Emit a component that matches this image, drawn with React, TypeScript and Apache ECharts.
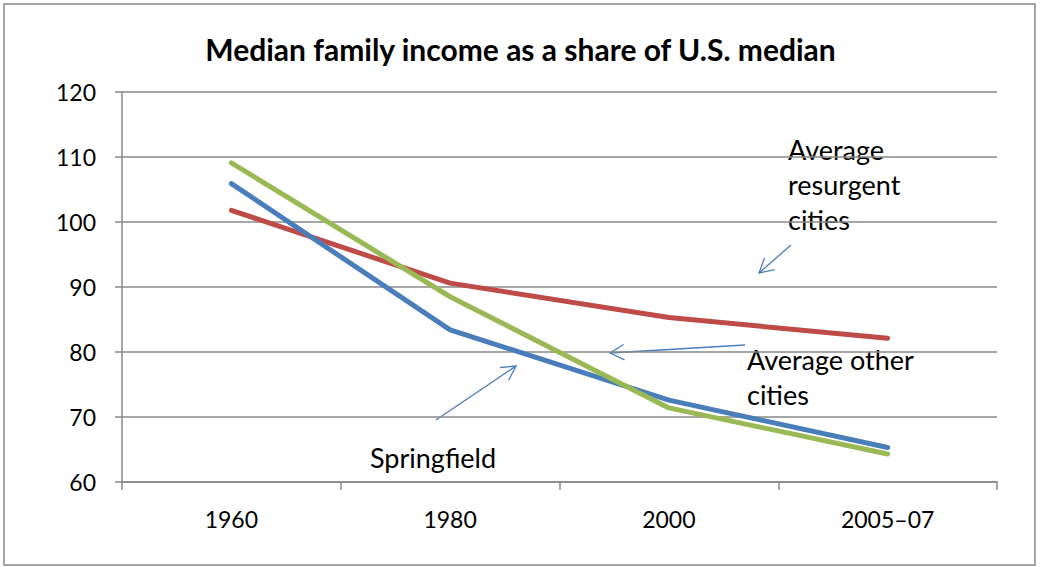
import React, { useEffect, useRef } from "react";
import * as echarts from "echarts";

const categories = ["1960", "1980", "2000", "2005–07"];
const springfield = [105.9, 83.4, 72.6, 65.3];
const otherCities = [109.1, 88.5, 71.4, 64.3];
const resurgentCities = [101.8, 90.6, 85.3, 82.1];
const yTicks = { min: 60, max: 120, interval: 10 };

const FONT = "Lato, 'Open Sans', sans-serif";
const ARROW = "#4a7ebb";

function arrow(x1: number, y1: number, x2: number, y2: number) {
  const ang = Math.atan2(y2 - y1, x2 - x1);
  const len = 16;
  const spread = 0.5;
  const a1 = ang + Math.PI - spread;
  const a2 = ang + Math.PI + spread;
  return [
    { type: "line", shape: { x1, y1, x2, y2 }, style: { stroke: ARROW, lineWidth: 1.3 } },
    {
      type: "polyline",
      shape: {
        points: [
          [x2 + len * Math.cos(a1), y2 + len * Math.sin(a1)],
          [x2, y2],
          [x2 + len * Math.cos(a2), y2 + len * Math.sin(a2)],
        ],
      },
      style: { stroke: ARROW, lineWidth: 1.3, fill: "none" },
    },
  ];
}

export default function App() {
  const ref = useRef<HTMLDivElement>(null);
  useEffect(() => {
    document.body.style.margin = "0";
    const chart = echarts.init(ref.current!, null, { renderer: "svg" });
    const text = (t: string, x: number, y: number) => ({
      type: "text",
      x,
      y,
      style: { text: t, font: `27px ${FONT}`, fill: "#000", lineHeight: 35 },
    });
    chart.setOption({
      animation: false,
      backgroundColor: "#fff",
      title: {
        text: "Median family income as a share of U.S. median",
        left: "center",
        top: 29,
        textStyle: { fontFamily: FONT, fontWeight: "bold", fontSize: 30, color: "#000" },
      },
      grid: { left: 122, right: 44, top: 92, bottom: 85 },
      xAxis: {
        type: "category",
        data: categories,
        boundaryGap: true,
        axisLine: { lineStyle: { color: "#888", width: 1.5 } },
        axisTick: { show: true, length: 8, lineStyle: { color: "#888", width: 1.5 } },
        axisLabel: { color: "#000", fontFamily: FONT, fontSize: 23, margin: 25 },
      },
      yAxis: {
        type: "value",
        min: yTicks.min,
        max: yTicks.max,
        interval: yTicks.interval,
        axisLine: { show: true, lineStyle: { color: "#888", width: 1.5 } },
        axisTick: { show: true, length: 7, lineStyle: { color: "#888", width: 1.5 } },
        axisLabel: { color: "#000", fontFamily: FONT, fontSize: 23, margin: 26 },
        splitLine: { lineStyle: { color: "#888", width: 1.5 } },
      },
      series: [
        {
          name: "Average resurgent cities",
          type: "line",
          data: resurgentCities,
          symbol: "none",
          lineStyle: { color: "#be4b48", width: 5, cap: "round", join: "round" },
        },
        {
          name: "Springfield",
          type: "line",
          data: springfield,
          symbol: "none",
          lineStyle: { color: "#4a7ebb", width: 5, cap: "round", join: "round" },
        },
        {
          name: "Average other cities",
          type: "line",
          data: otherCities,
          symbol: "none",
          lineStyle: { color: "#98b954", width: 5, cap: "round", join: "round" },
        },
      ],
      graphic: [
        {
          type: "rect",
          shape: { x: 4, y: 4, width: 1031, height: 561 },
          style: { fill: "none", stroke: "#888", lineWidth: 1.5 },
          silent: true,
        },
        text("Average\nresurgent\ncities", 788, 132),
        text("Average other\ncities", 747, 342),
        text("Springfield", 370, 440),
        ...arrow(791, 245, 759, 273),
        ...arrow(745, 345, 610, 353),
        ...arrow(436, 420, 516, 366),
      ],
    });
    return () => chart.dispose();
  }, []);
  return <div ref={ref} style={{ width: 1041, height: 567 }} />;
}
